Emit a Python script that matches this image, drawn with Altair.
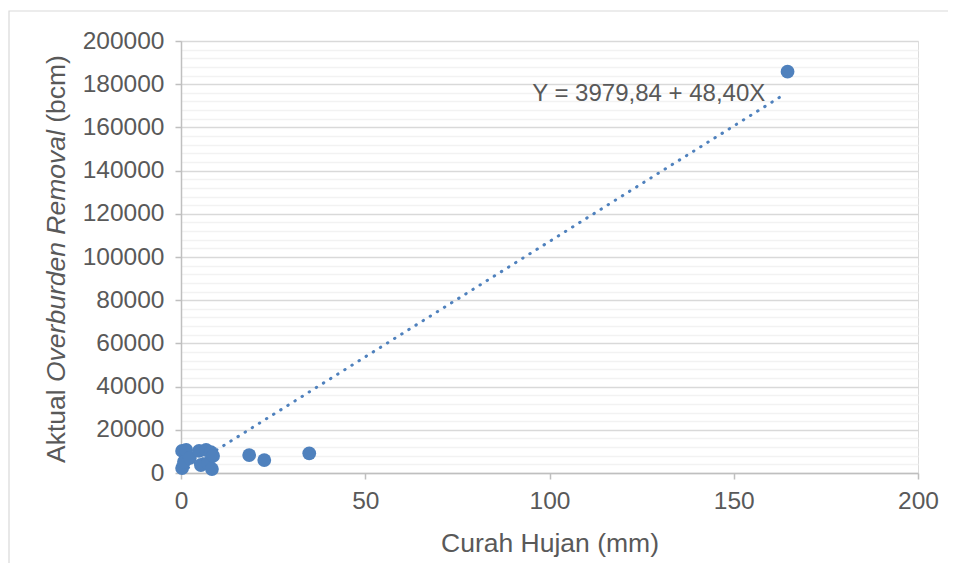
import altair as alt
import pandas as pd

# Data
curah_hujan = [0.3, 0.3, 1.4, 0.8, 2.4, 4.9, 6.8, 8.1, 5.4, 7.3, 8.7, 8.4, 18.5, 22.6, 34.8, 164.6]
aktual_ob = [10200, 2300, 10650, 5100, 6950, 10200, 10650, 9700, 3700, 4600, 7900, 1850, 8300, 6000, 9100, 185800]

# Trendline end points as drawn in the reference
trend_x = [0, 164]
trend_y = [320, 175600]

equation_text = "Y = 3979,84 + 48,40X"
equation_pos = [95.3, 175300]

x_ticks = [0, 50, 100, 150, 200]
y_ticks = list(range(0, 200001, 4000))

GRAY = "#595959"
BLUE = "#4f81bd"
FONT = "Liberation Sans"

W, H = 737, 432

pts = pd.DataFrame({"x": curah_hujan, "y": aktual_ob})
trend = pd.DataFrame({"x": trend_x, "y": trend_y})
eq = pd.DataFrame({"x": [equation_pos[0]], "y": [equation_pos[1]], "t": [equation_text]})
one = pd.DataFrame({"a": [0]})

major = "datum.value % 20000 === 0"

x_scale = alt.Scale(domain=[0, 200], nice=False, zero=True)
y_scale = alt.Scale(domain=[0, 200000], nice=False)

x_axis = alt.Axis(
    values=x_ticks, tickCount=10, title="Curah Hujan (mm)", grid=False,
    labelFlush=False, labelOverlap=False,
    domainColor="#bfbfbf", domainWidth=1.5, tickColor="#bfbfbf", tickWidth=1.5, tickSize=6,
    labelFont=FONT, labelFontSize=24.5, labelColor=GRAY, labelPadding=10,
    titleFont=FONT, titleFontSize=26.5, titleFontWeight="normal", titleColor=GRAY, titlePadding=18,
)
y_axis = alt.Axis(
    values=y_ticks, tickCount=100, title=None,
    labelExpr=f"{major} ? datum.value : ''",
    labelFlush=False, labelOverlap=False, labelBound=False,
    grid=True, gridWidth=1.5,
    gridColor={"condition": {"test": major, "value": "#d9d9d9"}, "value": "#f2f2f2"},
    tickOpacity={"condition": {"test": major, "value": 1}, "value": 0},
    domainColor="#bfbfbf", domainWidth=1.5, tickColor="#bfbfbf", tickWidth=1.5, tickSize=6,
    labelFont=FONT, labelFontSize=24.5, labelColor=GRAY, labelPadding=11,
)

points = alt.Chart(pts).mark_circle(size=190, color=BLUE, opacity=1).encode(
    x=alt.X("x:Q", scale=x_scale, axis=x_axis),
    y=alt.Y("y:Q", scale=y_scale, axis=y_axis),
)

line = alt.Chart(trend).mark_line(
    color=BLUE, strokeWidth=3, strokeDash=[0.5, 7.9], strokeCap="round"
).encode(x=alt.X("x:Q", scale=x_scale), y=alt.Y("y:Q", scale=y_scale))

eq_text = alt.Chart(eq).mark_text(
    align="left", baseline="middle", font=FONT, fontSize=24, color=GRAY
).encode(x=alt.X("x:Q", scale=x_scale), y=alt.Y("y:Q", scale=y_scale), text="t:N")

# Y-axis title with mixed italic
title_x = -116
t1 = alt.Chart(one).mark_text(
    text="Aktual", angle=270, align="left", baseline="alphabetic",
    font=FONT, fontSize=26.5, color=GRAY
).encode(x=alt.value(title_x), y=alt.value(422))
t2 = alt.Chart(one).mark_text(
    text="Overburden Removal", angle=270, align="left", baseline="alphabetic",
    font=FONT, fontSize=26.5, fontStyle="italic", color=GRAY
).encode(x=alt.value(title_x), y=alt.value(341))
t3 = alt.Chart(one).mark_text(
    text="(bcm)", angle=270, align="left", baseline="alphabetic",
    font=FONT, fontSize=26.5, color=GRAY
).encode(x=alt.value(title_x), y=alt.value(81.8))

frame = alt.Chart(one).mark_rect(fill=None, stroke="#d9d9d9", strokeWidth=1.2).encode(
    x=alt.value(-172), y=alt.value(-30), x2=alt.value(900), y2=alt.value(700)
)

chart = alt.layer(frame, line, points, eq_text, t1, t2, t3).properties(
    width=W, height=H,
    autosize=alt.AutoSizeParams(type="none"),
    padding={"left": 173, "top": 33, "right": 30, "bottom": 90},
).configure_view(stroke=None).configure(background="white")

chart.save("out.html", embed_options={"renderer": "svg", "actions": False})
